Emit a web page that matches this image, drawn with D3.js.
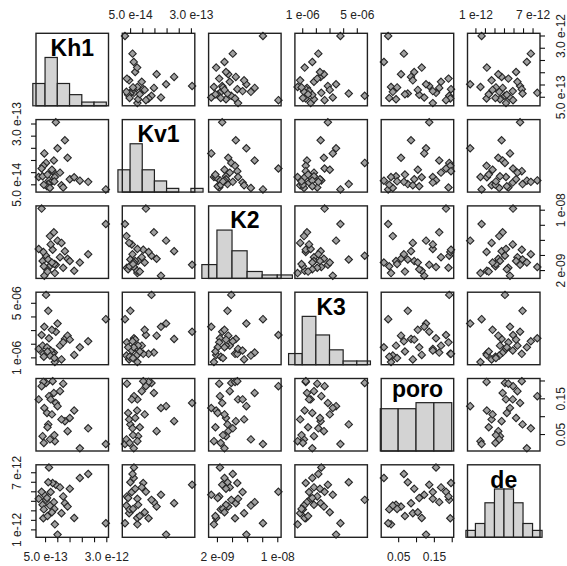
<!DOCTYPE html>
<html>
<head>
<meta charset="utf-8">
<script src="https://cdn.jsdelivr.net/npm/d3@7"></script>
<style>
  body { margin: 0; background: #fff; }
  svg { display: block; }
</style>
</head>
<body>
<div id="chart"></div>
<script>
// variable names, one per row / column of the matrix
var varNames = ["Kh1", "Kv1", "K2", "K3", "poro", "de"];

// 30 samples
var kh1 = [9.4e-13, 13.1e-13, 10.1e-13, 4.7e-13, 14.2e-13, 8.6e-13, 5.4e-13, 4.3e-13, 3.6e-13, 8.1e-13,
           11.1e-13, 2.4e-13, 4.0e-13, 9.0e-13, 6.6e-13, 7.3e-13, 6.3e-13, 11.7e-13, 12.4e-13, 15.1e-13,
           16.9e-13, 19.2e-13, 22.6e-13, 29.8e-13, 5.8e-13, 7.0e-13, 4.5e-13, 8.8e-13, 6.0e-13, 7.8e-13];
var kv1 = [30.5e-14, 23.1e-14, 19.8e-14, 17.7e-14, 15.9e-14, 14.8e-14, 13.8e-14, 12.6e-14, 11.5e-14, 10.4e-14,
           9.8e-14, 8.0e-14, 8.3e-14, 8.0e-14, 6.6e-14, 5.7e-14, 5.1e-14, 4.6e-14, 3.7e-14, 7.1e-14,
           7.9e-14, 6.5e-14, 6.0e-14, 2.9e-14, 4.2e-14, 3.5e-14, 4.8e-14, 6.2e-14, 9.0e-14, 11.0e-14];
var k2 = [2.7e-9, 4.5e-9, 5.9e-9, 1.25e-9, 3.5e-9, 7.0e-9, 3.9e-9, 4.4e-9, 10.15e-9, 4.7e-9,
          3.7e-9, 4.8e-9, 3.2e-9, 1.6e-9, 2.4e-9, 5.4e-9, 3.4e-9, 5.6e-9, 2.3e-9, 3.2e-9,
          1.9e-9, 3.0e-9, 4.1e-9, 8.1e-9, 2.1e-9, 6.5e-9, 2.5e-9, 2.8e-9, 1.8e-9, 3.0e-9];
var k3 = [2.88e-6, 2.35e-6, 3.48e-6, 3.24e-6, 2.59e-6, 1.35e-6, 5.58e-6, 1.26e-6, 2.64e-6, 1.26e-6,
          1.86e-6, 1.62e-6, 1.86e-6, 0.66e-6, 2.40e-6, 1.50e-6, 4.41e-6, 0.85e-6, 2.10e-6, 2.30e-6,
          1.18e-6, 1.74e-6, 2.18e-6, 3.80e-6, 1.74e-6, 1.13e-6, 1.05e-6, 0.95e-6, 1.43e-6, 3.02e-6];
var poro = [0.137, 0.086, 0.128, 0.123, 0.058, 0.165, 0.193, 0.196, 0.184, 0.198,
            0.170, 0.147, 0.044, 0.030, 0.156, 0.147, 0.077, 0.091, 0.191, 0.095,
            0.116, 0.010, 0.066, 0.022, 0.109, 0.035, 0.025, 0.047, 0.069, 0.105];
var de = [5.69e-12, 3.75e-12, 0.45e-12, 4.63e-12, 3.40e-12, 3.86e-12, 4.10e-12, 2.17e-12, 4.95e-12, 5.87e-12,
          5.41e-12, 4.21e-12, 3.58e-12, 1.53e-12, 7.50e-12, 4.92e-12, 5.95e-12, 2.70e-12, 4.46e-12, 5.27e-12,
          2.20e-12, 6.40e-12, 6.82e-12, 1.65e-12, 4.30e-12, 3.50e-12, 3.10e-12, 3.15e-12, 2.40e-12, 2.80e-12];

// axis ticks and the labels R managed to print
var kh1Ticks = [5e-13, 1e-12, 1.5e-12, 2e-12, 2.5e-12, 3e-12];
var kh1Labels = ["5.0 e-13", "", "", "", "", "3.0 e-12"];
var kv1Ticks = [5e-14, 1e-13, 1.5e-13, 2e-13, 2.5e-13, 3e-13];
var kv1Labels = ["5.0 e-14", "", "", "", "", "3.0 e-13"];
var k2Ticks = [2e-9, 4e-9, 6e-9, 8e-9, 1e-8];
var k2Labels = ["2 e-09", "", "", "", "1 e-08"];
var k3Ticks = [1e-6, 2e-6, 3e-6, 4e-6, 5e-6];
var k3Labels = ["1 e-06", "", "", "", "5 e-06"];
var poroTicks = [0.05, 0.10, 0.15, 0.20];
var poroLabels = ["0.05", "", "0.15", ""];
var deTicks = [1e-12, 2e-12, 3e-12, 4e-12, 5e-12, 6e-12, 7e-12];
var deLabels = ["1 e-12", "", "", "", "", "", "7 e-12"];

// histogram breaks
var kh1Breaks = [0, 5e-13, 1e-12, 1.5e-12, 2e-12, 2.5e-12, 3e-12];
var kv1Breaks = [0, 5e-14, 1e-13, 1.5e-13, 2e-13, 2.5e-13, 3e-13, 3.5e-13];
var k2Breaks = [0, 2e-9, 4e-9, 6e-9, 8e-9, 1e-8, 1.2e-8];
var k3Breaks = [0, 1e-6, 2e-6, 3e-6, 4e-6, 5e-6, 6e-6];
var poroBreaks = [0, 0.05, 0.10, 0.15, 0.20];
var deBreaks = [0, 1e-12, 2e-12, 3e-12, 4e-12, 5e-12, 6e-12, 7e-12, 8e-12];

var columns = [kh1, kv1, k2, k3, poro, de];
var ticks = [kh1Ticks, kv1Ticks, k2Ticks, k3Ticks, poroTicks, deTicks];
var tickLabels = [kh1Labels, kv1Labels, k2Labels, k3Labels, poroLabels, deLabels];
var breaks = [kh1Breaks, kv1Breaks, k2Breaks, k3Breaks, poroBreaks, deBreaks];

// layout
var svgWidth = 567, svgHeight = 566;
var marginLeft = 36, marginTop = 33.3;
var size = 72.5, gap = 13.8;
var n = varNames.length;
var labelFont = "'Liberation Sans', Arial, Helvetica, sans-serif";

var svg = d3.select("#chart").append("svg")
    .attr("width", svgWidth)
    .attr("height", svgHeight)
    .style("font-family", labelFont);

// R pads each range by 4% on both sides
function paddedDomain(arr) {
    var ext = d3.extent(arr);
    var pad = (ext[1] - ext[0]) * 0.04;
    return [ext[0] - pad, ext[1] + pad];
}
var xScales = columns.map(function(c) {
    return d3.scaleLinear().domain(paddedDomain(c)).range([0, size]);
});
var yScales = columns.map(function(c) {
    return d3.scaleLinear().domain(paddedDomain(c)).range([size, 0]);
});

var rows = d3.range(kh1.length);
var diamond = function(r) { return "M0," + (-r) + "L" + r + ",0L0," + r + "L" + (-r) + ",0Z"; };

// ink height of a string, so the diagonal names are centred like R does it
var ctx = document.createElement("canvas").getContext("2d");
ctx.font = "bold 23px " + labelFont;

for (var i = 0; i < n; i++) {
    for (var j = 0; j < n; j++) {
        var g = svg.append("g")
            .attr("transform", "translate(" + (marginLeft + j * (size + gap)) + "," + (marginTop + i * (size + gap)) + ")");
        var x = xScales[j], y = yScales[i];

        if (i === j) {
            var bins = d3.bin()
                .domain([breaks[i][0], breaks[i][breaks[i].length - 1]])
                .thresholds(breaks[i].slice(1, -1))(columns[i]);
            var maxCount = d3.max(bins, function(b) { return b.length; });
            var hy = d3.scaleLinear().domain([0, 1.5]).range([size, 0]);
            g.selectAll("rect.bar").data(bins).enter().append("rect")
                .attr("class", "bar")
                .attr("x", function(b) { return x(b.x0); })
                .attr("width", function(b) { return x(b.x1) - x(b.x0); })
                .attr("y", function(b) { return hy(b.length / maxCount); })
                .attr("height", function(b) { return size - hy(b.length / maxCount); })
                .attr("fill", "#d3d3d3")
                .attr("stroke", "#222")
                .attr("stroke-width", 1.2);

            var m = ctx.measureText(varNames[i]);
            var asc = m.actualBoundingBoxAscent || 16, desc = m.actualBoundingBoxDescent || 0;
            g.append("text")
                .attr("x", size / 2)
                .attr("y", 14 + (asc - desc) / 2)
                .attr("text-anchor", "middle")
                .attr("font-size", 23)
                .attr("font-weight", "bold")
                .attr("fill", "#000")
                .text(varNames[i]);
        } else {
            var xs = columns[j], ys = columns[i];
            g.selectAll("path.pt").data(rows).enter().append("path")
                .attr("class", "pt")
                .attr("transform", function(k) { return "translate(" + x(xs[k]) + "," + y(ys[k]) + ")"; })
                .attr("d", diamond(3.7))
                .attr("fill", "#a0a0a0")
                .attr("stroke", "#262626")
                .attr("stroke-width", 1.1);
        }

        g.append("rect")
            .attr("width", size)
            .attr("height", size)
            .attr("fill", "none")
            .attr("stroke", "#222")
            .attr("stroke-width", 1.4);

        // axes alternate between sides like in pairs()
        var fmtX = (function(lbl) { return function(d, k) { return lbl[k]; }; })(tickLabels[j]);
        var fmtY = (function(lbl) { return function(d, k) { return lbl[k]; }; })(tickLabels[i]);

        if (i === 0 && j % 2 === 1) {
            var ax = g.append("g").call(d3.axisTop(x).tickValues(ticks[j]).tickFormat(fmtX).tickSize(5).tickPadding(9));
            ax.select(".domain").remove();
        }
        if (i === n - 1 && j % 2 === 0) {
            var ab = g.append("g").attr("transform", "translate(0," + size + ")")
                .call(d3.axisBottom(x).tickValues(ticks[j]).tickFormat(fmtX).tickSize(5).tickPadding(10));
            ab.select(".domain").remove();
        }
        if (j === 0 && i % 2 === 1) {
            var al = g.append("g").call(d3.axisLeft(y).tickValues(ticks[i]).tickFormat(fmtY).tickSize(5));
            al.select(".domain").remove();
            al.selectAll("text")
                .attr("transform", "rotate(-90)")
                .attr("x", 0).attr("y", -15).attr("dy", 0)
                .attr("text-anchor", "middle");
        }
        if (j === n - 1 && i % 2 === 0) {
            var ar = g.append("g").attr("transform", "translate(" + size + ",0)")
                .call(d3.axisRight(y).tickValues(ticks[i]).tickFormat(fmtY).tickSize(5));
            ar.select(".domain").remove();
            ar.selectAll("text")
                .attr("transform", "rotate(-90)")
                .attr("x", 0).attr("y", 25).attr("dy", 0)
                .attr("text-anchor", "middle");
        }
    }
}

svg.selectAll(".tick text").attr("font-size", 12).attr("font-family", labelFont).attr("fill", "#222");
svg.selectAll(".tick line").attr("stroke", "#111").attr("stroke-width", 1.1);
</script>
</body>
</html>
